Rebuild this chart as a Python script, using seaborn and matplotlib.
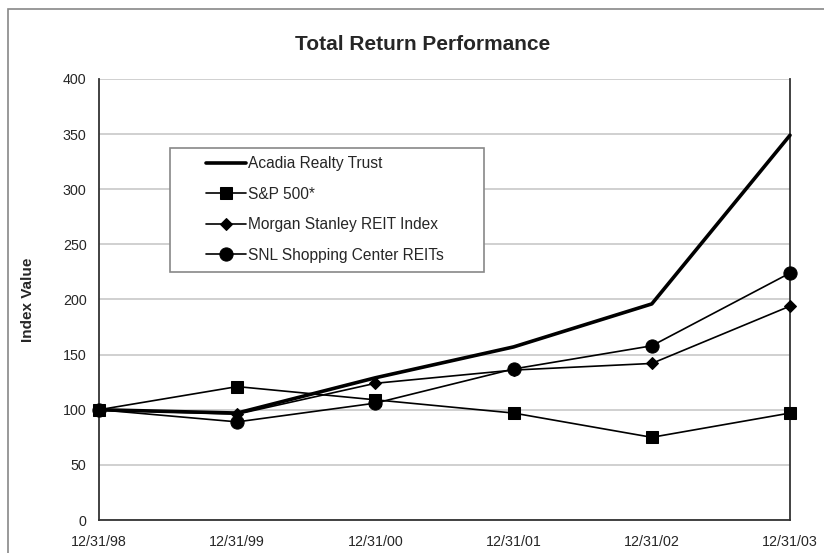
import matplotlib
matplotlib.use("Agg")
import matplotlib.pyplot as plt
import seaborn as sns
import pandas as pd
from matplotlib.patches import Rectangle

# Data
dates = ["12/31/98", "12/31/99", "12/31/00", "12/31/01", "12/31/02", "12/31/03"]
acadia = [100, 97, 129, 157, 196, 349]
sp500 = [100, 121, 109, 97, 75, 97]
msreit = [100, 96, 124, 136, 142, 194]
snl = [100, 89, 106, 137, 158, 224]

series_names = ["Acadia Realty Trust", "S&P 500*", "Morgan Stanley REIT Index", "SNL Shopping Center REITs"]
series_values = [acadia, sp500, msreit, snl]

sns.set_style("white")
plt.rcParams["font.family"] = ["Liberation Sans", "DejaVu Sans"]

fig = plt.figure(figsize=(8.24, 5.53), dpi=100)
ax = fig.add_axes([99 / 824, 1 - 520 / 553, 691 / 824, 441 / 553])

# outer chart frame (runs off the right and bottom edges)
fig.patches.append(Rectangle((8 / 824, -0.05), 1.2, 1 - 9 / 553 + 0.05,
                             transform=fig.transFigure, fill=False,
                             edgecolor="#888888", linewidth=1.2))

styles = {
    "Acadia Realty Trust": dict(marker=None, linewidth=2.6),
    "S&P 500*": dict(marker="s", markersize=9, linewidth=1.2),
    "Morgan Stanley REIT Index": dict(marker="D", markersize=6, linewidth=1.2),
    "SNL Shopping Center REITs": dict(marker="o", markersize=9.5, linewidth=1.2),
}

x_pos = list(range(len(dates)))
for name, vals in zip(series_names, series_values):
    df = pd.DataFrame({"x": x_pos, "y": vals})
    st = styles[name]
    sns.lineplot(data=df, x="x", y="y", ax=ax, color="black", label=name,
                 linewidth=st["linewidth"], marker=st["marker"],
                 markersize=st.get("markersize", 0), markeredgecolor="black",
                 markerfacecolor="black", clip_on=False, zorder=3)

ax.set_xlim(0, len(dates) - 1)
ax.set_ylim(0, 400)
ax.set_yticks(range(0, 401, 50))
ax.set_xticks(x_pos)
ax.set_xticklabels(dates)
ax.yaxis.grid(True, color="#c8c8c8", linewidth=1.2)
ax.set_axisbelow(True)

for side in ["left", "bottom", "right"]:
    ax.spines[side].set_visible(True)
    ax.spines[side].set_color("#333333")
    ax.spines[side].set_linewidth(1.3)
ax.spines["top"].set_visible(False)

ax.tick_params(axis="x", direction="inout", length=8, width=1, color="#333333",
               labelsize=10.3, pad=7)
ax.tick_params(axis="y", direction="out", length=4, width=1, color="#333333",
               labelsize=10.3, pad=5)

ax.set_xlabel("")
ax.set_ylabel("Index Value", fontsize=11, fontweight="bold", labelpad=20)
fig.text(423 / 824, 1 - 45 / 553, "Total Return Performance",
         ha="center", va="center", fontsize=15, fontweight="bold")

# legend box drawn by hand so the padding matches
ax.add_patch(Rectangle((71 / 691, 248 / 441), 314 / 691, 124 / 441,
                       transform=ax.transAxes, fill=True, facecolor="white",
                       edgecolor="#888888", linewidth=1.2, zorder=4))
leg = ax.legend(loc="upper left", bbox_to_anchor=(107 / 691, 364 / 441),
                frameon=False, fontsize=11.2, handlelength=2.6, handletextpad=0.1,
                labelspacing=1.0, borderaxespad=0, borderpad=0)
leg.set_zorder(5)

fig.savefig("out.png", dpi=100)
